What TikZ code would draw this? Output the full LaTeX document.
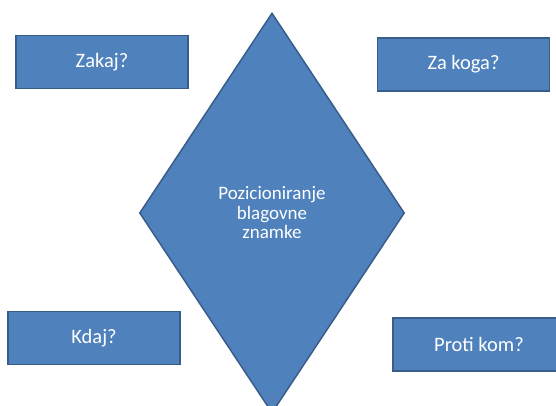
\documentclass[tikz,border=0pt]{standalone}
\usepackage{fontspec}
\setmainfont{Carlito}
\usetikzlibrary{shapes.geometric}

\definecolor{boxblue}{HTML}{4F81BD}
\definecolor{edgeblue}{HTML}{385D8A}

\tikzset{
  question/.style={draw=edgeblue, fill=boxblue, line width=1.5pt, text=white,
    minimum width=172pt, minimum height=53pt, inner sep=0pt,
    font=\fontsize{20.5}{24}\selectfont},
}

\begin{document}
\begin{tikzpicture}[x=1pt,y=-1pt]
\useasboundingbox (0,0) rectangle (556,405);
\clip (0,0) rectangle (556,405);

% the diamond in the middle
\node (centre) [diamond, draw=edgeblue, fill=boxblue, line width=1.5pt, text=white,
      minimum width=265pt, minimum height=400pt, inner sep=0pt,
      align=center, font=\fontsize{19}{19.5}\selectfont]
      at (272,213) {Pozicioniranje\\blagovne\\znamke};

% the four questions round it
\node (zakaj)  [question] at (102,62)    {Zakaj?};
\node (zakoga) [question] at (463.5,64.5) {Za koga?};
\node (kdaj)   [question] at (94,338)    {Kdaj?};
\node (proti)  [question] at (479,344.5) {Proti kom?};
\end{tikzpicture}
\end{document}
